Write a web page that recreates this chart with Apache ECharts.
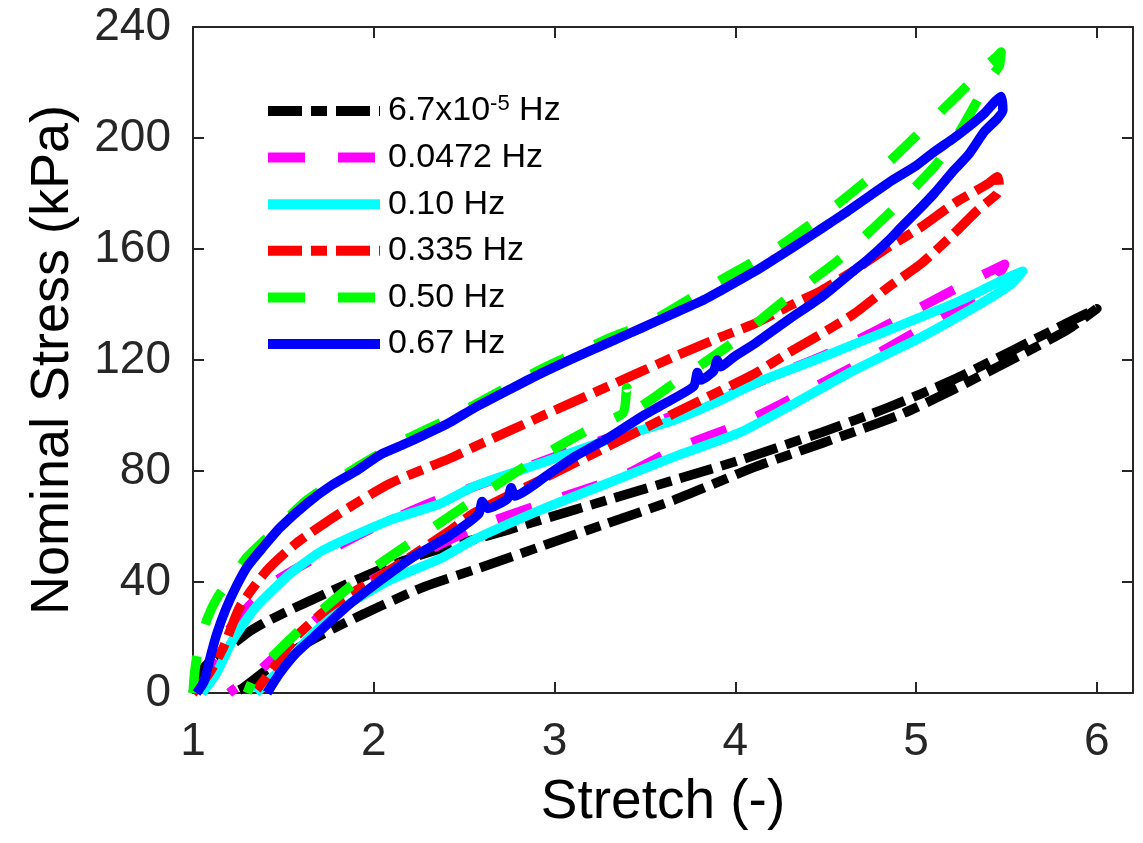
<!DOCTYPE html>
<html><head><meta charset="utf-8">
<script src="https://cdn.jsdelivr.net/npm/echarts/dist/echarts.min.js"></script>
<style>html,body{margin:0;padding:0;background:#fff}#c{width:1143px;height:843px}</style>
</head><body><div id="c"></div>
<script>
// ---- data (stretch, nominal stress kPa) ----
const seriesNames = ['6.7x10-5 Hz', '0.0472 Hz', '0.10 Hz', '0.335 Hz', '0.50 Hz', '0.67 Hz'];
const xTicks = [1, 2, 3, 4, 5, 6];
const yTicks = [0, 40, 80, 120, 160, 200, 240];

const blackLoad = [[1.0,0],[1.02,4],[1.06,9],[1.12,13],[1.20,16.5],[1.30,21.6],[1.40,25.5],[1.54,30],[1.74,36],[2.0,43.5],[2.2,48.5],[2.4,52.5],[2.74,58.7],[2.92,62.3],[3.29,69.5],[3.66,76.7],[4.03,84],[4.48,94],[4.85,103],[5.21,113],[5.55,124],[5.84,133.5],[6.0,138.5]];
const blackUnload = [[5.84,131],[5.57,121.5],[5.21,109.5],[4.92,100.5],[4.48,90],[4.11,81.5],[3.66,69.5],[3.29,61.1],[2.92,52.7],[2.55,44.3],[2.28,38.3],[2.05,31.7],[1.8,24],[1.6,17],[1.45,10.5],[1.35,5.5],[1.27,1.5],[1.22,0]];

const magentaLoad = [[1.04,0],[1.10,10],[1.18,21],[1.29,30],[1.45,40],[1.63,47],[1.98,59],[2.35,69.5],[2.71,78],[3.10,87.5],[3.51,96.5],[3.90,106],[4.22,114.5],[4.60,124.7],[4.96,136.8],[5.31,148.8],[5.49,154.5]];
const magentaUnload = [[5.45,150],[5.30,142],[5.10,134],[4.75,121],[4.40,109],[4.03,97],[3.67,88],[3.37,78],[2.94,68.4],[2.57,59.8],[2.20,48],[1.83,34.6],[1.51,16.6],[1.35,7],[1.22,1],[1.20,0]];

const cyanLoad = [[1.05,0],[1.13,7.1],[1.22,19.1],[1.35,31.1],[1.54,43.1],[1.72,51.5],[2.09,62.3],[2.37,68.3],[2.55,74.3],[2.92,82.7],[3.29,91.1],[3.66,98.3],[3.92,105.5],[4.11,111.6],[4.48,121],[4.85,130.8],[5.21,140.4],[5.36,145],[5.50,149.5],[5.59,152]];
const cyanUnload = [[5.52,147],[5.36,140.4],[5.03,128.3],[4.66,116.4],[4.29,103],[4.03,94],[3.66,85.1],[3.29,75.5],[2.92,65.9],[2.55,55.1],[2.37,48.5],[2.09,40.7],[1.81,29.9],[1.63,19.1],[1.48,8.3],[1.35,0]];

const redLoad = [[1.0,0],[1.03,2],[1.09,7.1],[1.17,16.7],[1.26,31.1],[1.41,44.3],[1.57,53.9],[1.81,64.7],[2.09,75.5],[2.42,84.5],[2.55,88.5],[2.92,99.5],[3.29,110.3],[3.66,121.1],[3.92,128.3],[4.11,133.2],[4.29,139.2],[4.48,145.2],[4.66,152.4],[4.85,160.8],[5.03,168],[5.21,176.4],[5.40,183.6],[5.45,186]];
const redUnload = [[5.46,183],[5.45,180],[5.34,174],[5.21,165.6],[5.03,154.8],[4.85,146.4],[4.66,136.8],[4.48,129.6],[4.29,122.4],[4.11,115.2],[3.92,109],[3.66,100.7],[3.29,88.7],[2.92,76.7],[2.55,64.7],[2.42,58.5],[2.09,44.3],[1.76,31.1],[1.57,20.3],[1.45,9.5],[1.35,1],[1.33,0]];

const greenLoad = [[1.0,0],[1.01,8],[1.03,16],[1.08,27],[1.14,35],[1.20,40],[1.30,49],[1.46,59],[1.63,69.5],[1.91,81.5],[2.18,91.5],[2.42,99],[2.92,116.5],[3.29,127.5],[3.55,134.5],[3.92,148.8],[4.24,160.8],[4.57,176.4],[4.86,192],[5.16,211],[5.30,220],[5.38,225.6],[5.44,229],[5.47,231]];
const greenUnload = [[5.46,226],[5.40,220.8],[5.34,213.6],[5.22,200],[5.10,189.6],[4.86,173.5],[4.57,156],[4.25,140.4],[3.98,126],[3.66,111.6],[3.43,102],[3.40,110],[3.38,101],[3.22,96],[2.92,85.1],[2.61,72],[2.28,57.5],[1.96,43.1],[1.65,26.3],[1.35,7.1],[1.30,0]];

const blueLoad = [[1.02,0],[1.06,4],[1.10,14],[1.13,21],[1.18,30],[1.24,38.5],[1.30,45.5],[1.39,52.7],[1.48,59.5],[1.63,68.3],[1.77,75],[1.91,80.3],[2.04,86],[2.18,90],[2.42,97.5],[2.55,102.5],[2.77,110],[2.92,115],[3.10,120.5],[3.29,126],[3.48,131.5],[3.66,136.8],[3.83,141.8],[3.92,145],[4.11,152],[4.22,156.5],[4.365,162.5],[4.48,167.5],[4.62,173.5],[4.73,178.5],[4.85,184],[5.0,190],[5.10,195],[5.21,200],[5.29,204],[5.38,209],[5.435,213],[5.47,215]];
const blueUnload = [[5.48,210],[5.45,207],[5.38,202.5],[5.29,194],[5.21,188.4],[5.10,180],[5.03,175.2],[4.92,168],[4.85,163.2],[4.73,156],[4.66,152.4],[4.48,142.8],[4.29,134.4],[4.11,126],[3.99,121],[3.92,117.6],[3.90,120],[3.88,116],[3.81,112.8],[3.79,115.5],[3.77,110.5],[3.60,104],[3.48,99.5],[3.30,92],[3.11,85.1],[2.96,78.5],[2.78,71],[2.76,74],[2.74,70],[2.63,66.5],[2.60,69],[2.58,64.5],[2.41,56.3],[2.22,49.1],[2.04,40.7],[1.85,31.1],[1.67,20.3],[1.57,14.3],[1.48,7.1],[1.41,0]];

// ---- styling ----
const FONT = '"Liberation Sans", Arial, Helvetica, sans-serif';
const AX = '#262626';
const dashDot = [34, 9, 16, 9];
const dashed = [37, 33];

const defs = [
  {name: seriesNames[0], data: blackLoad.concat(blackUnload), color: '#000000', type: dashDot},
  {name: seriesNames[1], data: magentaLoad.concat(magentaUnload), color: '#ff00ff', type: dashed},
  {name: seriesNames[2], data: cyanLoad.concat(cyanUnload), color: '#00ffff', type: 'solid'},
  {name: seriesNames[3], data: redLoad.concat(redUnload), color: '#ff0000', type: dashDot},
  {name: seriesNames[4], data: greenLoad.concat(greenUnload), color: '#00ff00', type: dashed},
  {name: seriesNames[5], data: blueLoad.concat(blueUnload), color: '#0000ff', type: 'solid'}
];

const chart = echarts.init(document.getElementById('c'), null, {renderer: 'canvas'});

function axisCommon(extra) {
  return Object.assign({
    type: 'value',
    axisLine: {show: true, onZero: false, lineStyle: {color: AX, width: 2}},
    axisTick: {show: true, inside: true, length: 11, lineStyle: {color: AX, width: 2}},
    splitLine: {show: false}
  }, extra);
}

chart.setOption({
  animation: false,
  backgroundColor: '#ffffff',
  grid: {left: 193, right: 10, top: 27, bottom: 150, containLabel: false},
  xAxis: [
    axisCommon({min: xTicks[0], max: 6.2, interval: 1, position: 'bottom',
      axisLabel: {show: true, margin: 26, fontSize: 46, color: AX, fontFamily: FONT, showMaxLabel: false,
        formatter: v => (xTicks.indexOf(v) >= 0 ? String(v) : '')},
      name: 'Stretch (-)', nameLocation: 'middle', nameGap: 82,
      nameTextStyle: {fontSize: 55, color: '#000', fontFamily: FONT}}),
    axisCommon({min: xTicks[0], max: 6.2, interval: 1, position: 'top', axisLabel: {show: false}})
  ],
  yAxis: [
    axisCommon({min: yTicks[0], max: yTicks[yTicks.length - 1], interval: 40, position: 'left',
      axisLabel: {show: true, margin: 22, fontSize: 46, color: AX, fontFamily: FONT},
      name: 'Nominal Stress (kPa)', nameLocation: 'middle', nameGap: 113,
      nameTextStyle: {fontSize: 54, color: '#000', fontFamily: FONT}}),
    axisCommon({min: yTicks[0], max: yTicks[yTicks.length - 1], interval: 40, position: 'right', axisLabel: {show: false}})
  ],
  legend: {
    show: true, orient: 'vertical', left: 263, top: 93, padding: 0,
    itemWidth: 112, itemHeight: 14, itemGap: 10.6,
    data: seriesNames,
    formatter: n => (n === seriesNames[0] ? '6.7x10{sup|-5} Hz' : n),
    textStyle: {fontFamily: FONT, fontSize: 34, color: '#000', lineHeight: 36, padding: [0, 0, 0, 3],
      rich: {sup: {fontFamily: FONT, fontSize: 22, lineHeight: 18, verticalAlign: 'top', color: '#000'}}},
    lineStyle: {width: 10},
    itemStyle: {opacity: 0}
  },
  series: defs.map(d => ({
    name: d.name, type: 'line', data: d.data,
    xAxisIndex: 0, yAxisIndex: 0,
    symbol: 'none', showSymbol: false, smooth: 0.2,
    lineStyle: {color: d.color, width: 9.5, type: d.type, cap: 'butt', join: 'round'},
    itemStyle: {color: d.color},
    emphasis: {disabled: true}
  }))
});
</script></body></html>
